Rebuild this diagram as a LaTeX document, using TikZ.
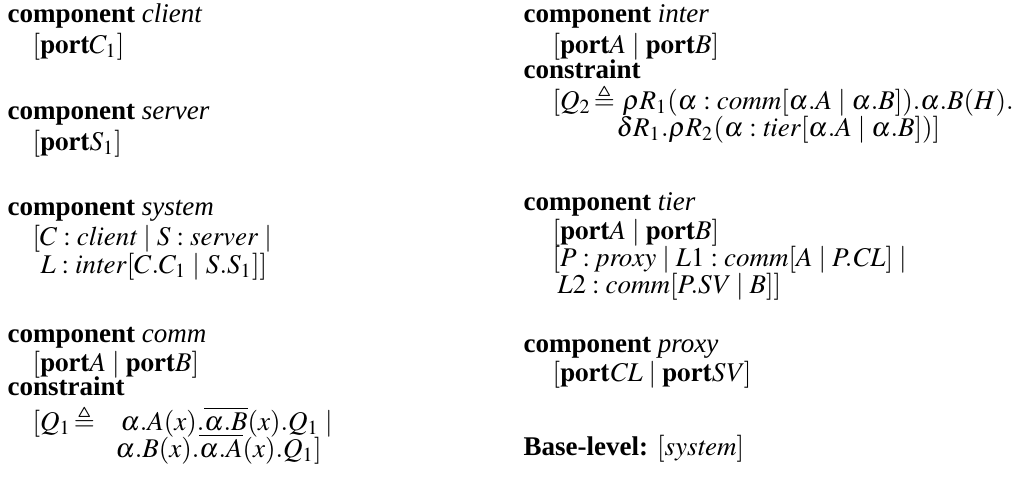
\documentclass[tikz,border=0pt]{standalone}
\usepackage{amsmath}
\usepackage{amssymb}
\usepackage{mathptmx}
\usepackage[no-math]{fontspec}
\setmainfont{Liberation Serif}
\usepackage{tikz}
\newcommand{\prt}{\mathbf{port}}
\newcommand{\kw}[1]{\textbf{#1}}
\newcommand{\defeq}{\mkern2mu{\triangleq}}

\begin{document}
\begin{tikzpicture}[
    x=0.37pt, y=-0.37pt,
    rad/.style={anchor=base west, inner sep=0pt, font=\normalsize}
    ]
\useasboundingbox (0,0) rectangle (1028,483);
%Left column
\node[rad] (client) at (7,22) {\kw{component} \textit{client}};
\node[rad] (clientp) at (32,53) {$[\prt C_1]$};
\node[rad] (server) at (7,119) {\kw{component} \textit{server}};
\node[rad] (serverp) at (32,150) {$[\prt S_1]$};
\node[rad] (system) at (7,215) {\kw{component} \textit{system}};
\node[rad] (systema) at (32,245) {$[C:\mathit{client} \mid S:\mathit{server} \mid$};
\node[rad] (systemb) at (40,273) {$L:\mathit{inter}[C.C_1 \mid S.S_1]]$};
\node[rad] (comm) at (7,342) {\kw{component} \textit{comm}};
\node[rad] (commp) at (32,371) {$[\prt A \mid \prt B]$};
\node[rad] (commk) at (7,395) {\kw{constraint}};
\node[rad] (commq) at (32,430) {$[Q_1\defeq$};
\node[rad] (commqa) at (120,430) {$\alpha.A(x).\overline{\alpha.B}(x).Q_1 \mid$};
\node[rad] (commqb) at (115,457) {$\alpha.B(x).\overline{\alpha.A}(x).Q_1]$};
%Right column
\node[rad] (inter) at (523,22) {\kw{component} \textit{inter}};
\node[rad] (interp) at (552,53) {$[\prt A \mid \prt B]$};
\node[rad] (interk) at (523,78) {\kw{constraint}};
\node[rad] (interq) at (552,109) {$[Q_2\defeq$};
\node[rad] (interqa) at (622,109) {$\rho R_1(\alpha:\mathit{comm}[\alpha.A \mid \alpha.B]).\alpha.B(H).$};
\node[rad] (interqb) at (616,136) {$\delta R_1.\rho R_2(\alpha:\mathit{tier}[\alpha.A \mid \alpha.B])]$};
\node[rad] (tier) at (523,210) {\kw{component} \textit{tier}};
\node[rad] (tierp) at (552,239) {$[\prt A \mid \prt B]$};
\node[rad] (tiera) at (552,266) {$[P:\mathit{proxy} \mid L1:\mathit{comm}[A \mid P.\mathit{CL}] \mid$};
\node[rad] (tierb) at (557,293) {$L2:\mathit{comm}[P.\mathit{SV} \mid B]]$};
\node[rad] (proxy) at (523,352) {\kw{component} \textit{proxy}};
\node[rad] (proxyp) at (552,381) {$[\prt \mathit{CL} \mid \prt \mathit{SV}]$};
\node[rad] (base) at (523,455) {\kw{Base-level:} $[\mathit{system}]$};
\end{tikzpicture}
\end{document}
